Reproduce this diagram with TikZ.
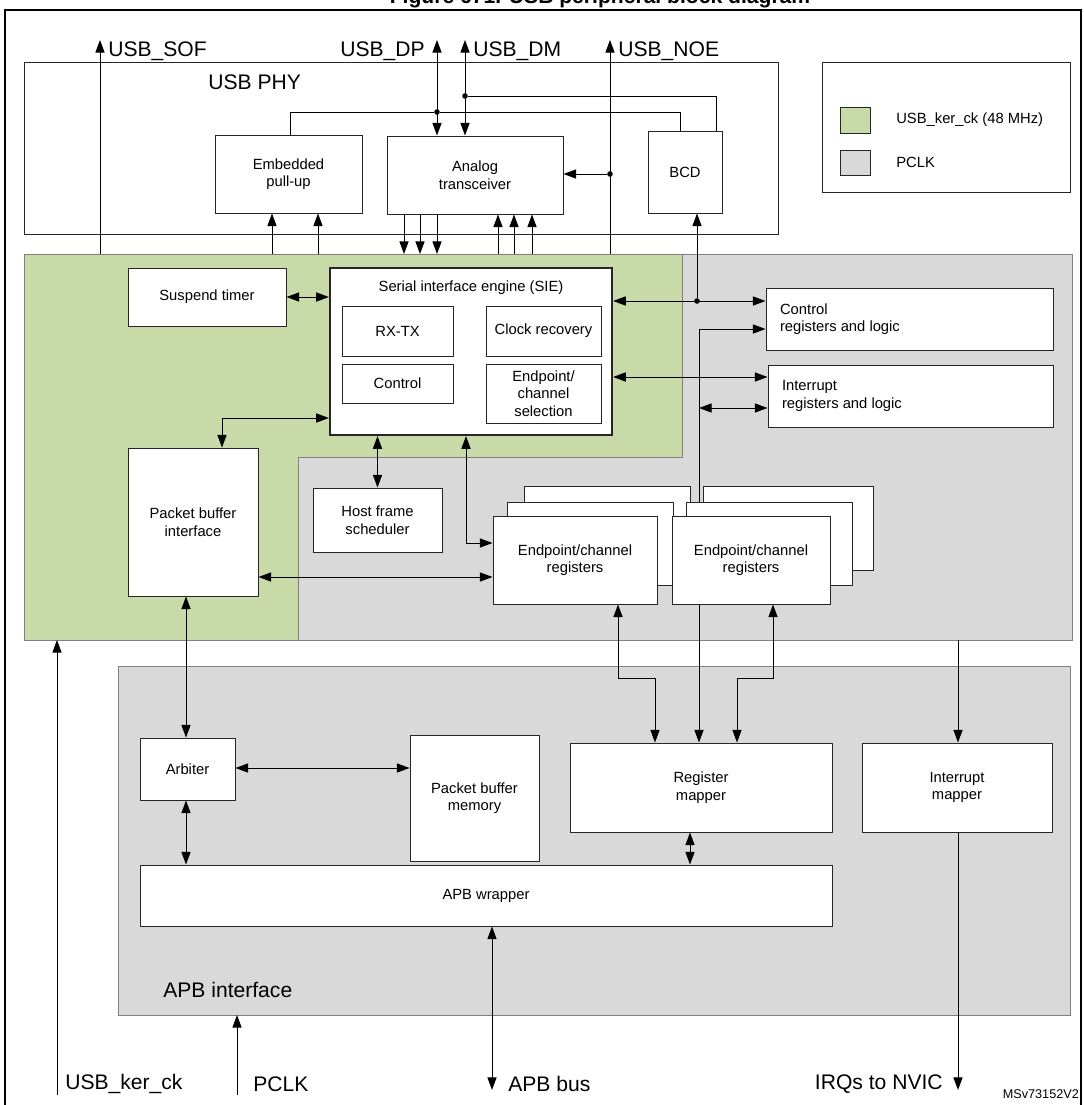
\documentclass[tikz,border=0pt]{standalone}
\usepackage{fontspec}
\setmainfont{Liberation Sans}
\usetikzlibrary{arrows.meta,fit}
\definecolor{kergreen}{RGB}{200,218,168}
\definecolor{pclkgray}{RGB}{217,217,217}
\tikzset{
  box/.style={draw=black!85, fill=white, inner sep=0pt},
  txt/.style={font=\fontsize{10.5}{12.5}\selectfont, align=center, inner sep=0pt},
  lbl/.style={label={[txt]center:#1}},
  sig/.style={font=\fontsize{15}{18}\selectfont, inner sep=2pt},
  dot/.style={circle, fill, inner sep=1.4pt},
  >={Triangle[length=9pt,width=6.5pt]},
}
\begin{document}
\begin{tikzpicture}[x=0.025cm, y=-0.025cm, line width=0.7pt]
    \useasboundingbox (0,0) rectangle (1084,1105);

    % Titel und Rahmen
    \node[font=\bfseries\fontsize{15}{18}\selectfont] (title) at (600,-2) {Figure 671. USB peripheral block diagram};
    \draw[line width=1.8pt] (5,1110) -- (5,10) -- (1081,10) -- (1081,1110);

    % Taktbereiche
    \filldraw[fill=kergreen, draw=gray] (24,254) -- (682,254) -- (682,457) -- (298,457) -- (298,640) -- (24,640) -- cycle;
    \filldraw[fill=pclkgray, draw=gray] (682,254) -- (1072,254) -- (1072,640) -- (298,640) -- (298,457) -- (682,457) -- cycle;
    \filldraw[fill=pclkgray, draw=gray] (118,666) rectangle (1070,1015);
    \node[sig, anchor=west] (apbl) at (160,990) {APB interface};

    % USB PHY
    \draw[draw=black!85] (24,62) rectangle (778,234);
    \node[sig, anchor=west] (phyl) at (205,82) {USB PHY};
    \node[box, lbl={Embedded\\pull-up}, fit={(215,135) (362,213)}] (pullup) {};
    \node[box, lbl={Analog\\transceiver}, fit={(387,136) (563,214)}] (analog) {};
    \node[box, lbl={BCD}, fit={(648,131) (722,213)}] (bcd) {};

    % Legende
    \draw[draw=black!85] (822,62) rectangle (1070,192);
    \node[box, fill=kergreen, fit={(840,107) (870,133)}] (lgreen) {};
    \node[txt, anchor=west] at ([xshift=18]lgreen.east) {USB\_ker\_ck (48 MHz)};
    \node[box, fill=pclkgray, fit={(840,150) (870,175)}] (lgray) {};
    \node[txt, anchor=west] at ([xshift=18]lgray.east) {PCLK};

    % SIE
    \node[box, lbl={Suspend timer}, fit={(128,268) (286,326)}] (susp) {};
    \node[box, line width=1.6pt, fit={(330,268) (612,435)}] (sie) {};
    \node[txt] (siel) at (471,288) {Serial interface engine (SIE)};
    \node[box, lbl={RX-TX}, fit={(342,306) (453,356)}] (rxtx) {};
    \node[box, lbl={Clock recovery}, fit={(486,306) (601,356)}] (clkrec) {};
    \node[box, lbl={Control}, fit={(342,364) (453,403)}] (ctrl) {};
    \node[box, lbl={Endpoint/\\channel\\selection}, fit={(486,364) (601,423)}] (epsel) {};

    \node[box, fit={(766,288) (1053,350)}] (ctrlreg) {};
    \node[txt, align=left, anchor=west] at ([xshift=10]ctrlreg.west) {Control\\registers and logic};
    \node[box, fit={(768,365) (1053,427)}] (intreg) {};
    \node[txt, align=left, anchor=west] at ([xshift=10]intreg.west) {Interrupt\\registers and logic};

    \node[box, lbl={Packet buffer\\interface}, fit={(128,448) (258,596)}] (pbif) {};
    \node[box, lbl={Host frame\\scheduler}, fit={(313,488) (442,552)}] (hfs) {};

    % Endpoint-Register (Stapel)
    \draw[draw=black!85, fill=white] (524,486) rectangle (690,570);
    \draw[draw=black!85, fill=white] (507,502) rectangle (673,585);
    \draw[draw=black!85, fill=white] (703,486) rectangle (873,570);
    \draw[draw=black!85, fill=white] (686,502) rectangle (852,585);
    \node[box, lbl={Endpoint/channel\\registers}, fit={(493,516) (657,604)}] (epreg1) {};
    \node[box, lbl={Endpoint/channel\\registers}, fit={(672,516) (830,604)}] (epreg2) {};

    % APB
    \node[box, lbl={Arbiter}, fit={(140,738) (235,800)}] (arb) {};
    \node[box, lbl={Packet buffer\\memory}, fit={(410,735) (539,861)}] (pbmem) {};
    \node[box, lbl={Register\\mapper}, fit={(570,743) (832,832)}] (regmap) {};
    \node[box, lbl={Interrupt\\mapper}, fit={(862,743) (1052,832)}] (intmap) {};
    \node[box, lbl={APB wrapper}, fit={(140,865) (832,926)}] (apbw) {};

    % Signale oben
    \coordinate (sof) at (100,40);
    \coordinate (dp) at (437,40);
    \coordinate (dm) at (465,40);
    \coordinate (noe) at (610,40);
    \draw[->] (100,254) -- (sof);
    \node[sig, anchor=west] at (105,51) {USB\_SOF};
    \draw[<->] (analog.north -| dp) -- (dp);
    \node[sig, anchor=east] at (428,51) {USB\_DP};
    \draw[<->] (analog.north -| dm) -- (dm);
    \node[sig, anchor=west] at (470,51) {USB\_DM};
    \draw[->] (610,254) -- (noe);
    \node[sig, anchor=west] at (615,51) {USB\_NOE};
    \node[dot] (ddp) at (437,112) {};
    \node[dot] (ddm) at (465,96) {};
    \node[dot] (dnoe) at (610,174) {};
    \draw (pullup.north -| 290,0) |- (ddp) -| (bcd.north -| 680,0);
    \draw (ddm) -| (bcd.north -| 716,0);
    \draw[->] (dnoe) -- (dnoe -| analog.east);

    % PHY <-> SIE
    \foreach \x in {272,318}
      \draw[->] (\x,254) -- (pullup.south -| \x,0);
    \foreach \x in {404,420,437}
      \draw[->] (analog.south -| \x,0) -- (\x,254);
    \foreach \x in {498,514,532}
      \draw[->] (\x,254) -- (analog.south -| \x,0);
    \node[dot] (dctl) at (697,301) {};
    \draw[->] (dctl) -- (bcd.south -| dctl);
    \draw[<->] (sie.east |- dctl) -- (ctrlreg.west |- dctl);
    \draw[<->] (sie.east |- 0,377) -- (intreg.west |- 0,377);
    \draw[->] (699,502) |- (ctrlreg.west |- 0,329);
    \draw[<->] (699,408) -- (intreg.west |- 0,408);

    % SIE-Verbindungen
    \draw[<->] (susp.east |- 0,297) -- (sie.west |- 0,297);
    \draw[<->] (pbif.north -| 222,0) |- (sie.west |- 0,418);
    \draw[<->] (sie.south -| hfs.north) -- (hfs.north);
    \draw[<->] (sie.south -| 466,0) |- (epreg1.west |- 0,543);
    \draw[<->] (pbif.east |- 0,577) -- (epreg1.west |- 0,577);

    % Register-Mapper
    \draw[<->] (epreg1.south -| 618,0) |- (655,678) -- (regmap.north -| 655,0);
    \draw[->] (epreg2.south -| 699,0) -- (regmap.north -| 699,0);
    \draw[<->] (epreg2.south -| 773,0) |- (737,678) -- (regmap.north -| 737,0);
    \draw[<->] (regmap.south -| 690,0) -- (apbw.north -| 690,0);

    % Arbiter
    \draw[<->] (pbif.south -| 186,0) -- (arb.north -| 186,0);
    \draw[<->] (arb.east |- 0,768) -- (pbmem.west |- 0,768);
    \draw[<->] (arb.south -| 186,0) -- (apbw.north -| 186,0);

    % Signale unten
    \coordinate (kerck) at (57,1095);
    \coordinate (pclk) at (237,1095);
    \coordinate (apbbus) at (492,1090);
    \coordinate (irq) at (958,1090);
    \draw[->] (kerck) -- (57,640);
    \node[sig, anchor=west] at (62,1084) {USB\_ker\_ck};
    \draw[->] (pclk) -- (237,1015);
    \node[sig, anchor=west] at (250,1084) {PCLK};
    \draw[<->] (apbw.south -| apbbus) -- (apbbus);
    \node[sig, anchor=west] at (505,1084) {APB bus};
    \draw[->] (958,640) -- (intmap.north -| irq);
    \draw[->] (intmap.south -| irq) -- (irq);
    \node[sig, anchor=east] at (946,1084) {IRQs to NVIC};
    \node[font=\fontsize{9}{11}\selectfont, anchor=south east] (msv) at (1084,1104) {MSv73152V2};
\end{tikzpicture}
\end{document}
